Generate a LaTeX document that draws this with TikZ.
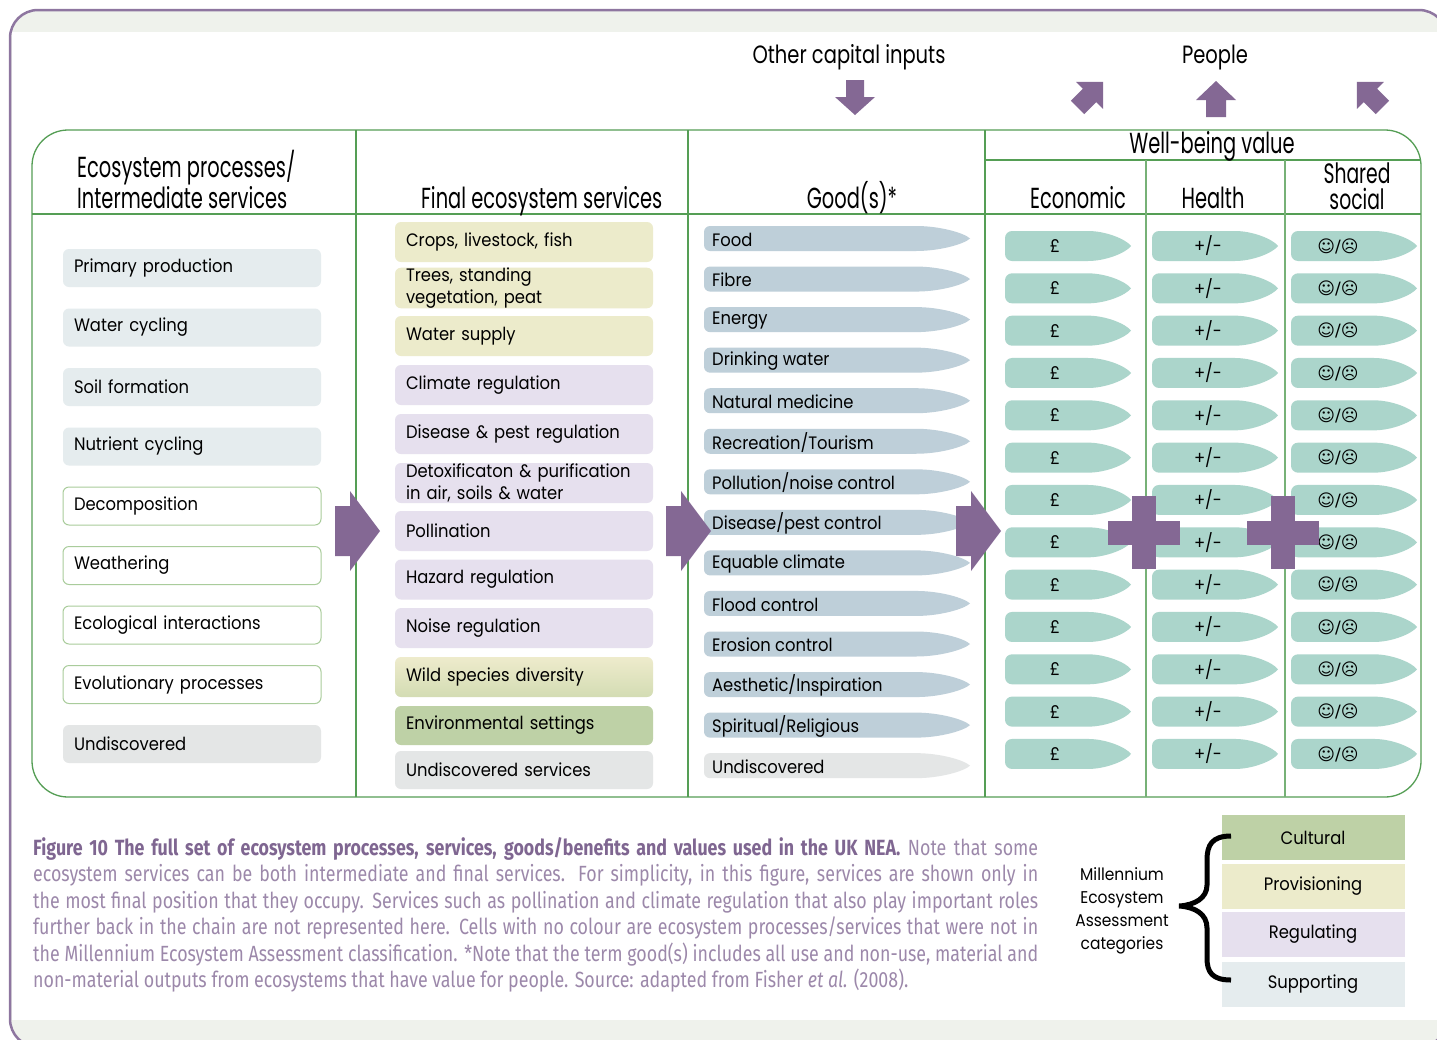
\documentclass[tikz,border=0pt]{standalone}
\usepackage{fontspec}
\setmainfont{Poppins}[FakeStretch=0.91]
\newfontfamily\condfont{Poppins}[FakeStretch=0.67]
\newfontfamily\topfont{Poppins}[FakeStretch=0.78]
\newfontfamily\capfont{Fira Sans}[FakeStretch=0.81]
\newfontfamily\symfont{DejaVu Sans}
\definecolor{framepurple}{HTML}{8E76A0}
\definecolor{arrowpurple}{HTML}{846894}
\definecolor{tablegreen}{HTML}{559E55}
\definecolor{boxgreen}{HTML}{A9CC9B}
\definecolor{supp}{HTML}{E5ECEE}
\definecolor{prov}{HTML}{ECEBCB}
\definecolor{regu}{HTML}{E6E0EE}
\definecolor{cult}{HTML}{BED1A6}
\definecolor{undis}{HTML}{E4E6E6}
\definecolor{goodc}{HTML}{BECFD9}
\definecolor{wellc}{HTML}{ABD5CB}
\definecolor{band}{HTML}{EFF2EC}
\definecolor{capc}{HTML}{9C88AA}
\definecolor{capb}{HTML}{7F6691}
\definecolor{wildtop}{HTML}{EEEBCC}
\definecolor{wildbot}{HTML}{D3DCB3}
\newcommand{\tapershape}[7]{% x0, x1, yc, half height, taper length, colour, corner radius
  \fill[#6, rounded corners=#7] (#2,#3) .. controls ({#2-0.1*#5},{#3-0.45*#4}) and ({#2-0.5*#5},{#3-#4}) .. ({#2-#5},{#3-#4}) -- (#1,{#3-#4}) -- (#1,{#3+#4}) -- ({#2-#5},{#3+#4}) [sharp corners] .. controls ({#2-0.5*#5},{#3+#4}) and ({#2-0.1*#5},{#3+0.45*#4}) .. (#2,#3);}
\begin{document}
\begin{tikzpicture}[x=1pt,y=-1pt,
  font=\fontsize{18}{22}\selectfont,
  hdr/.style={font=\condfont\fontsize{29}{25}\selectfont, inner sep=0pt},
  toplab/.style={font=\topfont\fontsize{25}{25}\selectfont, inner sep=0pt},
  lbox/.style={rounded corners=6pt, minimum width=258pt, minimum height=38pt, text width=236pt, align=left, inner xsep=11pt, inner ysep=0pt},
  fbox/.style={rounded corners=6pt, minimum width=258pt, minimum height=40pt, text width=236pt, align=left, inner xsep=11pt, inner ysep=0pt},
  gtext/.style={anchor=west, inner sep=0pt},
  wtext/.style={inner sep=0pt},
  legbox/.style={minimum width=183pt, minimum height=45pt, inner sep=0pt},
  captext/.style={font=\capfont\fontsize{22}{26}\selectfont, text=capc, inner sep=0pt, anchor=base west},
  blockarrow/.style={fill=arrowpurple}
]
\useasboundingbox (0,0) rectangle (1437,1039);
\clip (0,0) rectangle (1437,1039);
% frame
\fill[band, rounded corners=28pt] (10,10) rectangle (1447,1047);
\fill[white] (12,32) rectangle (1437,1020);
\draw[framepurple, line width=2.5pt, rounded corners=28pt] (10,10) rectangle (1447,1047);

% table
\draw[tablegreen, line width=1.3pt, rounded corners=36pt] (32,130) rectangle (1421,797);
\draw[tablegreen, line width=1.3pt] (32,214) -- (1421,214);
\draw[tablegreen, line width=1.3pt] (356,130) -- (356,797);
\draw[tablegreen, line width=1.3pt] (688,130) -- (688,797);
\draw[tablegreen, line width=1.3pt] (985,130) -- (985,797);
\draw[tablegreen, line width=1.3pt] (985,160) -- (1421,160);
\draw[tablegreen!80, line width=1.2pt] (1146,160) -- (1146,797);
\draw[tablegreen!80, line width=1.2pt] (1285,160) -- (1285,797);

% top labels and arrows
\node[toplab, anchor=base] (oci) at (849,63) {Other capital inputs};
\node[toplab, anchor=base] (people) at (1215,63) {People};
\fill[blockarrow] (846,80) -- (864,80) -- (864,97) -- (875,97) -- (855,115) -- (835,97) -- (846,97) -- cycle;
\fill[blockarrow] (1216,81) -- (1236,100) -- (1226,100) -- (1226,117) -- (1206,117) -- (1206,100) -- (1196,100) -- cycle;
\fill[blockarrow, shift={(1089.6,95.4)}, rotate=-45] (0,-19) -- (19,0) -- (9.5,0) -- (9.5,17) -- (-9.5,17) -- (-9.5,0) -- (-19,0) -- cycle;
\fill[blockarrow, shift={(1370.4,95.4)}, rotate=45] (0,-19) -- (19,0) -- (9.5,0) -- (9.5,17) -- (-9.5,17) -- (-9.5,0) -- (-19,0) -- cycle;

% headers
\node[hdr, anchor=base west, align=left] (h1) at (77,208) {Ecosystem processes/\\Intermediate services};
\node[hdr, anchor=base west] (h2) at (421,208) {Final ecosystem services};
\node[hdr, anchor=base] (h3) at (852,208) {Good(s)*};
\node[hdr, anchor=base] (h4) at (1212,153) {Well-being value};
\node[hdr, anchor=base] (h5) at (1078,208) {Economic};
\node[hdr, anchor=base] (h6) at (1213,208) {Health};
\node[hdr, anchor=base, align=center, font=\condfont\fontsize{28}{26}\selectfont] (h7) at (1357,209) {Shared\\social};

% column 1
\foreach \t/\fc/\dc [count=\i] in {Primary production/supp/none, Water cycling/supp/none, Soil formation/supp/none, Nutrient cycling/supp/none, Decomposition/white/boxgreen, Weathering/white/boxgreen, Ecological interactions/white/boxgreen, Evolutionary processes/white/boxgreen, Undiscovered/undis/none}
  \node[lbox, fill=\fc, draw=\dc, line width=1pt] (p\i) at (192,{268+(\i-1)*59.5}) {\t};

% column 2
\node[fbox, fill=prov] (f1) at (524,242) {Crops, livestock, fish};
\node[fbox, fill=prov, minimum height=38pt] (f2) at (524,288) {Trees, standing\\vegetation, peat};
\node[fbox, fill=prov] (f3) at (524,336) {Water supply};
\node[fbox, fill=regu] (f4) at (524,385) {Climate regulation};
\node[fbox, fill=regu] (f5) at (524,434) {Disease \& pest regulation};
\node[fbox, fill=regu] (f6) at (524,483) {Detoxificaton \& purification\\in air, soils \& water};
\node[fbox, fill=regu] (f7) at (524,531) {Pollination};
\node[fbox, fill=regu] (f8) at (524,579.5) {Hazard regulation};
\node[fbox, fill=regu] (f9) at (524,628) {Noise regulation};
\node[fbox, top color=wildtop, bottom color=wildbot] (f10) at (524,677) {Wild species diversity};
\node[fbox, fill=cult, minimum height=39pt] (f11) at (524,725.5) {Environmental settings};
\node[fbox, fill=undis, minimum height=38pt] (f12) at (524,770) {Undiscovered services};

% column 3: goods
\foreach \t [count=\i] in {Food, Fibre, Energy, Drinking water, Natural medicine, Recreation/Tourism, Pollution/noise control, Disease/pest control, Equable climate, Flood control, Erosion control, Aesthetic/Inspiration, Spiritual/Religious, Undiscovered}{
  \pgfmathsetmacro{\yy}{238.5+(\i-1)*40.55}
  \ifnum\i=14 \def\gc{undis}\else\def\gc{goodc}\fi
  \tapershape{704}{970}{\yy}{12.5}{60}{\gc}{6pt}
  \node[gtext] (g\i) at (712,{\yy+1}) {\t};
}

% well-being
\foreach \i in {1,...,13}{
  \pgfmathsetmacro{\yy}{246+(\i-1)*42.33}
  \tapershape{1005}{1131}{\yy}{15}{50}{wellc}{7pt}
  \tapershape{1152}{1278}{\yy}{15}{50}{wellc}{7pt}
  \tapershape{1291}{1417}{\yy}{15}{50}{wellc}{7pt}
  \node[wtext] (e\i) at (1055,\yy) {£};
  \node[wtext] (hh\i) at (1208,\yy) {+/-};
  \node[wtext, font=\symfont\fontsize{17}{20}\selectfont] (s\i) at (1338,\yy) {☺/☹};
}

% big arrows
\fill[blockarrow] (335,506) -- (350,506) -- (350,491) -- (380,531) -- (350,571) -- (350,556) -- (335,556) -- cycle;
\fill[blockarrow] (666,506) -- (681,506) -- (681,491) -- (711,531) -- (681,571) -- (681,556) -- (666,556) -- cycle;
\fill[blockarrow] (956,506) -- (971,506) -- (971,491) -- (1001,531) -- (971,571) -- (971,556) -- (956,556) -- cycle;
% plus signs
\fill[blockarrow] (1132,496) rectangle (1156,569);
\fill[blockarrow] (1108,521) rectangle (1180,545);
\fill[blockarrow] (1271,496) rectangle (1295,569);
\fill[blockarrow] (1247,521) rectangle (1319,545);

% caption
\node[captext] (c1) at (33,855) {\makebox[1005pt][s]{{\color{capb}\bfseries Figure 10 The full set of ecosystem processes, services, goods/benefits and values used in the UK NEA.} Note that some}};
\node[captext] (c2) at (33,881.5) {\makebox[1005pt][s]{ecosystem services can be both intermediate and final services. For simplicity, in this figure, services are shown only in}};
\node[captext] (c3) at (33,908) {\makebox[1005pt][s]{the most final position that they occupy. Services such as pollination and climate regulation that also play important roles}};
\node[captext] (c4) at (33,934.5) {\makebox[1005pt][s]{further back in the chain are not represented here. Cells with no colour are ecosystem processes/services that were not in}};
\node[captext] (c5) at (33,961) {\makebox[1005pt][s]{the Millennium Ecosystem Assessment classification. *Note that the term good(s) includes all use and non-use, material and}};
\node[captext] (c6) at (33,987.5) {non-material outputs from ecosystems that have value for people. Source: adapted from Fisher \textit{et al.} (2008).};

% legend
\node[legbox, fill=cult] (lc) at (1313,837.5) {Cultural};
\node[legbox, fill=prov] (lp) at (1313,886.5) {Provisioning};
\node[legbox, fill=regu] (lr) at (1313,934.5) {Regulating};
\node[legbox, fill=supp] (ls) at (1313,984.5) {Supporting};
\node[align=center, inner sep=0pt, font=\fontsize{17}{23}\selectfont] (mea) at (1122,911) {Millennium\\Ecosystem\\Assessment\\categories};
\draw[line width=5pt] (1231,836) .. controls (1212,836) and (1207,845) .. (1207,860) -- (1207,885) .. controls (1207,898) and (1195,905) .. (1179,906) .. controls (1195,907) and (1207,914) .. (1207,928) -- (1207,958) .. controls (1207,972) and (1212,980) .. (1231,980);
\end{tikzpicture}
\end{document}
